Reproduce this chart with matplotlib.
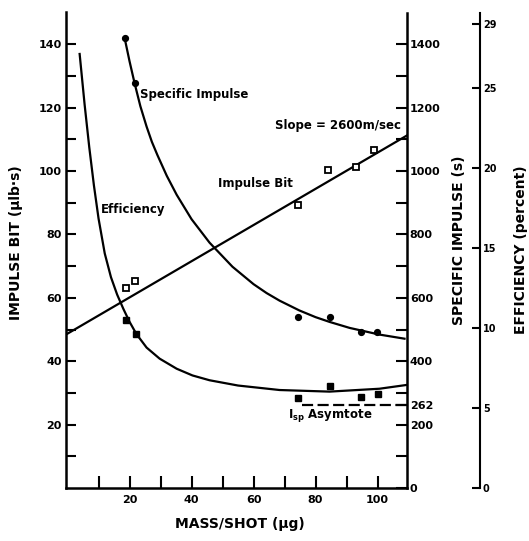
import matplotlib
matplotlib.use("Agg")
import matplotlib.pyplot as plt

# ---- data ----
# Impulse bit measurements (open squares), micro-lb-s
mass_ib = [19.0, 21.9, 74.2, 83.9, 93.2, 99.0]
impulse_bit = [63.0, 65.3, 89.3, 100.3, 101.3, 106.6]
# Impulse bit fit line (slope = 2600 m/s)
ib_fit_mass = [0, 110]
ib_fit = [48.7, 111.5]

# Specific impulse measurements (filled circles), s
mass_isp = [18.4, 21.6, 74.5, 84.8, 94.8, 99.7]
isp = [1420, 1278, 538, 538, 492, 492]
# Specific impulse fitted curve
isp_curve_mass = [18.4, 20.0, 21.6, 23.5, 25.5, 27.2, 29.0, 32.0, 35.2, 40.0,
                  45.8, 53.2, 60.0, 64.2, 68.4, 74.8, 80.0, 84.5, 91.0,
                  100.6, 108.7]
isp_curve = [1420, 1346, 1278, 1204, 1140, 1092, 1050, 985, 925, 848,
             774, 698, 643, 615, 591, 560, 539, 524, 505,
             484, 471]
isp_asymptote = 262
asym_mass = [75.5, 110]

# Efficiency measurements (filled squares), percent
mass_eff = [18.7, 22.2, 74.5, 84.5, 94.8, 100.0]
efficiency = [10.5, 9.6, 5.6, 6.4, 5.7, 5.9]
# Efficiency fitted curve
eff_curve_mass = [3.9, 5.5, 7.0, 8.5, 10.0, 12.0, 14.0, 16.0, 18.0, 20.0,
                  22.2, 25.5, 29.7, 35.2, 40.3, 45.8, 55.0, 68.4, 84.5,
                  100.6, 109.5]
eff_curve = [27.11, 23.96, 21.29, 18.91, 16.83, 14.65, 13.17, 12.08, 11.19,
             10.38, 9.62, 8.77, 8.08, 7.45, 7.03, 6.73, 6.40, 6.12, 6.02,
             6.20, 6.44]

# tick definitions
x_ticks = [10, 20, 30, 40, 50, 60, 70, 80, 90, 100]
x_ticklabels = ["", "20", "", "40", "", "60", "", "80", "", "100"]
ib_ticks = [10, 20, 30, 40, 50, 60, 70, 80, 90, 100, 110, 120, 130, 140]
ib_ticklabels = ["", "20", "", "40", "", "60", "", "80", "", "100", "", "120", "", "140"]
isp_major = [0, 200, 262, 400, 600, 800, 1000, 1200, 1400]
isp_minor = [100, 300, 500, 700, 900, 1100, 1300]
eff_ticks = [0, 5, 10, 15, 20, 25, 29]

W, H = 529, 541
fig = plt.figure(figsize=(W / 100, H / 100), dpi=100)
ax = fig.add_axes([66 / W, (H - 488) / H, 341 / W, 475.5 / H])
ax_isp = ax.twinx()
ax_eff = ax.twinx()

FS = 8
lw = 1.6
col = "black"

ax.set_xlim(-0.5, 109.5)
ax.set_ylim(0, 150)
ax_isp.set_ylim(0, 1500)
ax_eff.set_ylim(0, 29.7)

# spines
for a in (ax, ax_isp, ax_eff):
    for s in a.spines.values():
        s.set_visible(False)
ax.spines["left"].set_visible(True)
ax.spines["bottom"].set_visible(True)
ax_isp.spines["right"].set_visible(True)
ax_eff.spines["right"].set_visible(True)
ax_eff.spines["right"].set_position(("axes", 1.214))
for s in (ax.spines["left"], ax.spines["bottom"], ax_isp.spines["right"]):
    s.set_linewidth(1.8)
ax_eff.spines["right"].set_linewidth(1.5)

# ticks
ax.set_xticks(x_ticks)
ax.set_xticklabels(x_ticklabels, fontsize=FS, fontweight="bold")
ax.set_yticks(ib_ticks)
ax.set_yticklabels(ib_ticklabels, fontsize=FS, fontweight="bold")
ax.tick_params(axis="x", direction="in", length=9, width=1.5, pad=5)
ax.tick_params(axis="y", direction="in", length=7, width=1.5, pad=3)

ax_isp.set_yticks(isp_major)
ax_isp.set_yticklabels([str(v) for v in isp_major], fontsize=FS, fontweight="bold")
ax_isp.set_yticks(isp_minor, minor=True)
ax_isp.tick_params(axis="y", which="both", direction="in", length=8, width=1.5, pad=2)

ax_eff.set_yticks(eff_ticks)
ax_eff.set_yticklabels([str(v) for v in eff_ticks], fontsize=7, fontweight="bold")
ax_eff.tick_params(axis="y", direction="in", length=6, width=1.5, pad=2)

# impulse bit
ax.plot(ib_fit_mass, ib_fit, color=col, lw=lw, clip_on=True)
ax.plot(mass_ib, impulse_bit, ls="none", marker="s", ms=4.2, mfc="white",
        mec=col, mew=1.3)

# specific impulse
ax_isp.plot(isp_curve_mass, isp_curve, color=col, lw=lw, solid_joinstyle="round")
ax_isp.plot(mass_isp, isp, ls="none", marker="o", ms=4.2, mfc=col, mec=col)
ax_isp.plot(asym_mass, [isp_asymptote] * 2, color=col, lw=1.6, ls=(0, (5, 2)))

# efficiency
ax_eff.plot(eff_curve_mass, eff_curve, color=col, lw=lw, solid_joinstyle="round")
ax_eff.plot(mass_eff, efficiency, ls="none", marker="s", ms=4.5, mfc=col, mec=col)

# annotations
tkw = dict(fontsize=8.5, fontweight="bold", color=col)
ax.text(23.5, 124, "Specific Impulse", ha="left", va="center", **tkw)
ax.text(10.6, 87.7, "Efficiency", ha="left", va="center", **tkw)
ax.text(48.4, 96.2, "Impulse Bit", ha="left", va="center", **tkw)
ax.text(107.5, 114.5, "Slope = 2600m/sec", ha="right", va="center", **tkw)
ax.text(71, 23, r"I$_{\mathbf{sp}}$ Asymtote", ha="left", va="center", **tkw)

# axis titles
lkw = dict(fontsize=10, fontweight="bold", color=col, ha="center", va="center")
fig.text(16 / W, 1 - 243 / H, "IMPULSE BIT (μlb·s)", rotation=90, **lkw)
fig.text(459 / W, 1 - 240 / H, "SPECIFIC IMPULSE (s)", rotation=90, **lkw)
fig.text(521 / W, 1 - 250 / H, "EFFICIENCY (percent)", rotation=90, **lkw)
fig.text(240 / W, 1 - 524 / H, "MASS/SHOT (μg)", **lkw)

fig.savefig("out.png", dpi=100)
